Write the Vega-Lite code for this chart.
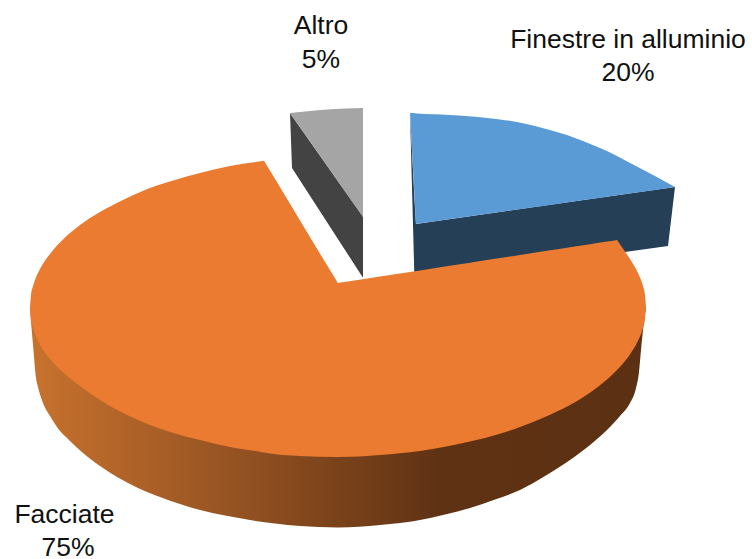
{
  "$schema": "https://vega.github.io/schema/vega-lite/v6.json",
  "width": 752,
  "height": 559,
  "autosize": {"type": "none"},
  "padding": 0,
  "background": "white",
  "view": {"stroke": null},
  "datasets": {
    "finestreSide": [
      {"x": 410, "top": 113, "bottom": 113},
      {"x": 414.5, "top": 200, "bottom": 281},
      {"x": 416, "top": 224, "bottom": 281},
      {"x": 668, "top": 188, "bottom": 246},
      {"x": 675, "top": 187, "bottom": 187}
    ],
    "finestreTop": [
      {"x": 410, "top": 113, "bottom": 113},
      {"x": 411, "top": 113.1, "bottom": 131.5},
      {"x": 415, "top": 113.3, "bottom": 205.5},
      {"x": 416, "top": 113.4, "bottom": 224},
      {"x": 417, "top": 113.5, "bottom": 223.86},
      {"x": 450, "top": 115, "bottom": 219.1},
      {"x": 475, "top": 116.8, "bottom": 215.5},
      {"x": 500, "top": 119.5, "bottom": 212},
      {"x": 517, "top": 122, "bottom": 209.6},
      {"x": 533, "top": 125.5, "bottom": 207.3},
      {"x": 550, "top": 130, "bottom": 204.9},
      {"x": 567, "top": 135, "bottom": 202.4},
      {"x": 583, "top": 141, "bottom": 200},
      {"x": 600, "top": 148, "bottom": 197.7},
      {"x": 617, "top": 156, "bottom": 195.3},
      {"x": 633, "top": 164.5, "bottom": 193},
      {"x": 655, "top": 176, "bottom": 189.9},
      {"x": 675, "top": 187, "bottom": 187}
    ],
    "altroSide": [
      {"x": 290, "top": 113, "bottom": 113},
      {"x": 292, "top": 116, "bottom": 168},
      {"x": 362.5, "top": 216, "bottom": 277},
      {"x": 363, "top": 217, "bottom": 277}
    ],
    "altroTop": [
      {"x": 290, "top": 113, "bottom": 113},
      {"x": 300, "top": 112, "bottom": 127.2},
      {"x": 315, "top": 110.5, "bottom": 148.6},
      {"x": 327, "top": 109.5, "bottom": 165.7},
      {"x": 345, "top": 108.5, "bottom": 191.4},
      {"x": 363, "top": 108, "bottom": 217}
    ],
    "facciateSide": [
      {"x": 30, "top": 307, "bottom": 310},
      {"x": 33, "top": 307, "bottom": 345},
      {"x": 36, "top": 307, "bottom": 378},
      {"x": 38, "top": 307, "bottom": 387},
      {"x": 43, "top": 307, "bottom": 403},
      {"x": 50, "top": 307, "bottom": 416},
      {"x": 57, "top": 307, "bottom": 427},
      {"x": 70, "top": 307, "bottom": 441},
      {"x": 83, "top": 307, "bottom": 453},
      {"x": 100, "top": 307, "bottom": 466},
      {"x": 117, "top": 307, "bottom": 477},
      {"x": 138, "top": 307, "bottom": 488},
      {"x": 160, "top": 307, "bottom": 497},
      {"x": 180, "top": 307, "bottom": 504},
      {"x": 200, "top": 307, "bottom": 510},
      {"x": 225, "top": 307, "bottom": 515.5},
      {"x": 250, "top": 307, "bottom": 520},
      {"x": 275, "top": 307, "bottom": 523.5},
      {"x": 300, "top": 307, "bottom": 526},
      {"x": 338, "top": 307, "bottom": 527.5},
      {"x": 380, "top": 307, "bottom": 525},
      {"x": 400, "top": 307, "bottom": 523},
      {"x": 420, "top": 307, "bottom": 520},
      {"x": 445, "top": 307, "bottom": 514.5},
      {"x": 470, "top": 307, "bottom": 508},
      {"x": 495, "top": 307, "bottom": 499.5},
      {"x": 520, "top": 307, "bottom": 490},
      {"x": 545, "top": 307, "bottom": 476},
      {"x": 570, "top": 307, "bottom": 460},
      {"x": 590, "top": 307, "bottom": 445},
      {"x": 607, "top": 307, "bottom": 430},
      {"x": 620, "top": 307, "bottom": 416},
      {"x": 630, "top": 307, "bottom": 403},
      {"x": 636, "top": 307, "bottom": 388},
      {"x": 639, "top": 307, "bottom": 372},
      {"x": 641, "top": 307, "bottom": 350},
      {"x": 643, "top": 307, "bottom": 330},
      {"x": 646, "top": 307, "bottom": 307}
    ],
    "facciateTop": [
      {"x": 30, "top": 307, "bottom": 307},
      {"x": 31, "top": 295, "bottom": 319},
      {"x": 33, "top": 286, "bottom": 328},
      {"x": 36, "top": 277.5, "bottom": 336.3},
      {"x": 40, "top": 269, "bottom": 344.7},
      {"x": 50, "top": 254, "bottom": 359},
      {"x": 65, "top": 237.6, "bottom": 374},
      {"x": 80, "top": 225, "bottom": 386},
      {"x": 100, "top": 212, "bottom": 400},
      {"x": 125, "top": 199, "bottom": 414},
      {"x": 150, "top": 188, "bottom": 425},
      {"x": 175, "top": 180, "bottom": 433.4},
      {"x": 200, "top": 173, "bottom": 440},
      {"x": 230, "top": 166, "bottom": 447},
      {"x": 263, "top": 161.1, "bottom": 452.4},
      {"x": 264, "top": 161, "bottom": 452.6},
      {"x": 265, "top": 162.6, "bottom": 452.8},
      {"x": 300, "top": 220.4, "bottom": 456},
      {"x": 337, "top": 281.4, "bottom": 457},
      {"x": 338, "top": 283, "bottom": 457},
      {"x": 339, "top": 282.85, "bottom": 457},
      {"x": 380, "top": 276.5, "bottom": 455},
      {"x": 420, "top": 270.4, "bottom": 451},
      {"x": 470, "top": 262.7, "bottom": 441.6},
      {"x": 500, "top": 258, "bottom": 433.7},
      {"x": 520, "top": 255, "bottom": 427},
      {"x": 545, "top": 251.1, "bottom": 417},
      {"x": 570, "top": 247.3, "bottom": 405},
      {"x": 590, "top": 244.2, "bottom": 392.7},
      {"x": 607, "top": 241.5, "bottom": 379.6},
      {"x": 616, "top": 240.15, "bottom": 371},
      {"x": 617, "top": 240, "bottom": 370},
      {"x": 618, "top": 241.5, "bottom": 369},
      {"x": 625, "top": 251.5, "bottom": 361},
      {"x": 630, "top": 259, "bottom": 354.4},
      {"x": 638, "top": 273, "bottom": 340.8},
      {"x": 640, "top": 277.5, "bottom": 336.5},
      {"x": 643, "top": 286, "bottom": 327.7},
      {"x": 645, "top": 295, "bottom": 319},
      {"x": 646, "top": 307, "bottom": 307}
    ],
    "labels": [
      {"text": "Altro", "x": 321, "y": 34},
      {"text": "5%", "x": 321, "y": 68},
      {"text": "Finestre in alluminio", "x": 628, "y": 48},
      {"text": "20%", "x": 628, "y": 81},
      {"text": "Facciate", "x": 64.5, "y": 523},
      {"text": "75%", "x": 68, "y": 556}
    ]
  },
  "encoding": {
    "x": {"field": "x", "type": "quantitative", "axis": null, "scale": {"domain": [0, 752], "nice": false, "zero": false}},
    "y": {"field": "top", "type": "quantitative", "axis": null, "scale": {"domain": [559, 0], "nice": false, "zero": false}},
    "y2": {"field": "bottom"}
  },
  "layer": [
    {"data": {"name": "finestreSide"}, "mark": {"type": "area", "color": "#243f56"}},
    {"data": {"name": "finestreTop"}, "mark": {"type": "area", "color": "#5b9bd5", "interpolate": "monotone"}},
    {"data": {"name": "altroSide"}, "mark": {"type": "area", "color": "#434343"}},
    {"data": {"name": "altroTop"}, "mark": {"type": "area", "color": "#a5a5a5"}},
    {
      "data": {"name": "facciateSide"},
      "mark": {
        "type": "area",
        "interpolate": "monotone",
        "color": {
          "gradient": "linear",
          "x1": 0, "y1": 0, "x2": 1, "y2": 0,
          "stops": [
            {"offset": 0, "color": "#c8722e"},
            {"offset": 0.34, "color": "#945222"},
            {"offset": 0.5, "color": "#7a421a"},
            {"offset": 0.665, "color": "#5f3214"},
            {"offset": 1, "color": "#5c3012"}
          ]
        }
      }
    },
    {"data": {"name": "facciateTop"}, "mark": {"type": "area", "color": "#ea7b30", "interpolate": "monotone"}},
    {
      "data": {"name": "labels"},
      "mark": {"type": "text", "font": "Liberation Sans", "fontSize": 26.5, "color": "#111111", "align": "center", "baseline": "alphabetic"},
      "encoding": {
        "y": {"field": "y", "type": "quantitative", "axis": null, "scale": {"domain": [559, 0], "nice": false, "zero": false}},
        "y2": null,
        "text": {"field": "text", "type": "nominal"}
      }
    }
  ]
}
